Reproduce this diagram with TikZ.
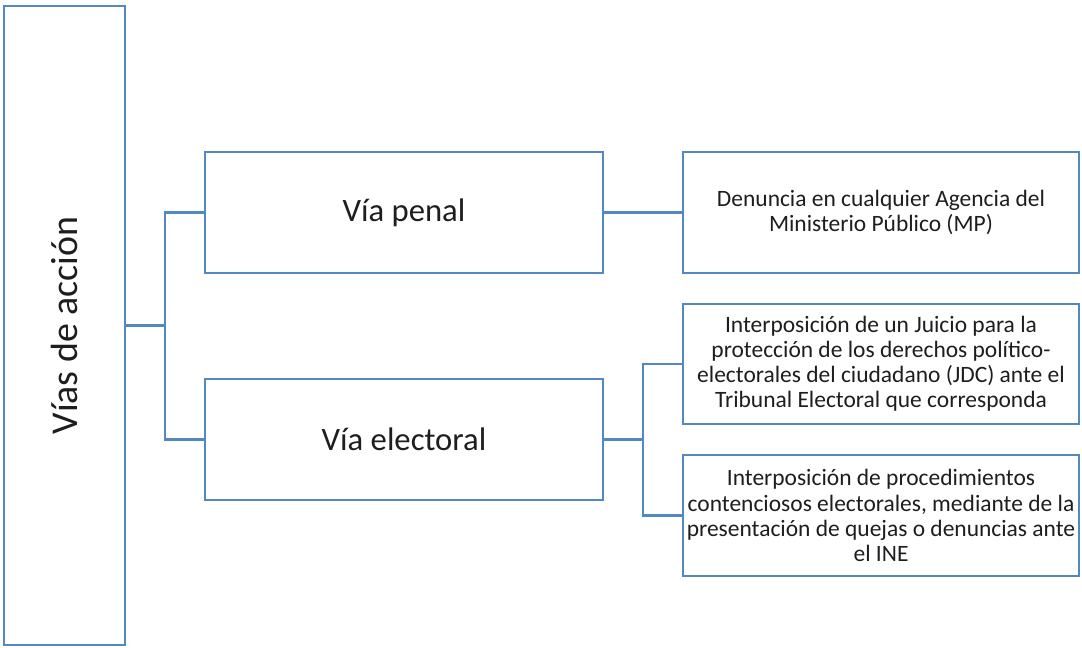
\documentclass[tikz,border=0pt]{standalone}
\usepackage{fontspec}
\setmainfont{Carlito}
\definecolor{boxblue}{RGB}{82,137,196}
\definecolor{txt}{RGB}{30,30,30}
\tikzset{
  x=0.75pt, y=-0.75pt,
  box/.style={draw=boxblue, line width=1.6pt, fill=white, rectangle, inner sep=0pt,
    text=txt, align=center},
  link/.style={draw=boxblue, line width=1.6pt},
  big/.style={font=\fontsize{24.5}{29}\selectfont},
  small/.style={font=\fontsize{17.6}{18.8}\selectfont},
}
\begin{document}
\begin{tikzpicture}
\useasboundingbox (0,0) rectangle (1082,648);
% root box with rotated title
\node[box, minimum width=121*0.75pt, minimum height=639*0.75pt] (root) at (64.5,325.5) {};
\node[rotate=90, text=txt, font=\fontsize{28.4}{34}\selectfont] (roottxt) at (root.center) {Vías de acción};
% second level
\node[box, big, minimum width=398*0.75pt, minimum height=121*0.75pt] (penal) at (404,212.5) {Vía penal};
\node[box, big, minimum width=398*0.75pt, minimum height=121*0.75pt] (elec) at (404,439.5) {Vía electoral};
% third level
\node[box, small, minimum width=396*0.75pt, minimum height=121*0.75pt] (denuncia) at (881,212.5)
  {Denuncia en cualquier Agencia del\\Ministerio Público (MP)};
\node[box, small, minimum width=396*0.75pt, minimum height=120*0.75pt] (jdc) at (881,364)
  {Interposición de un Juicio para la\\protección de los derechos político-\\electorales del ciudadano (JDC) ante el\\Tribunal Electoral que corresponda};
\node[box, small, minimum width=396*0.75pt, minimum height=121*0.75pt] (quejas) at (881,515.5)
  {Interposición de procedimientos\\contenciosos electorales, mediante de la\\presentación de quejas o denuncias ante\\el INE};
% connectors
\coordinate (t1) at (165,325.5);
\coordinate (t2) at (643,439.5);
\draw[link] (root.east) -- (t1);
\draw[link] (penal.west) -| (t1) |- (elec.west);
\draw[link] (penal.east) -- (denuncia.west);
\draw[link] (elec.east) -- (t2);
\draw[link] (jdc.west) -| (t2) |- (quejas.west);
\end{tikzpicture}
\end{document}
